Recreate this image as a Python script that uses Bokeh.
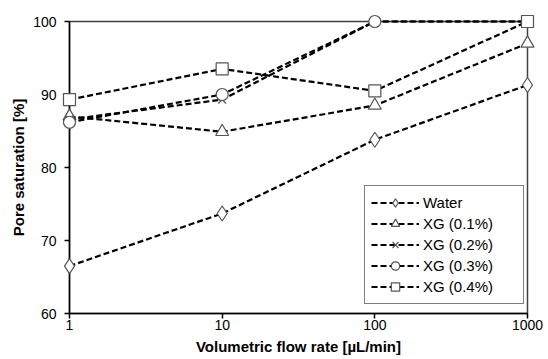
from bokeh.plotting import figure
from bokeh.models import Range1d, FixedTicker, Legend
from bokeh.embed import file_html
from bokeh.resources import INLINE

flow = [1, 10, 100, 1000]
water = [66.5, 73.7, 83.8, 91.3]
xg01 = [87.0, 84.9, 88.5, 97.0]
xg02 = [86.6, 89.3, 100.0, 100.0]
xg03 = [86.2, 90.0, 100.0, 100.0]
xg04 = [89.3, 93.5, 90.5, 100.0]

series = [
    ("Water", water, "diamond", 15),
    ("XG (0.1%)", xg01, "triangle", 13),
    ("XG (0.2%)", xg02, "x", 11),
    ("XG (0.3%)", xg03, "circle", 12),
    ("XG (0.4%)", xg04, "square", 12),
]
yticks = [60, 70, 80, 90, 100]
xticks = [1, 10, 100, 1000]

FONT = "Liberation Sans"

p = figure(width=548, height=359, x_axis_type="log", output_backend="svg",
           toolbar_location=None, x_range=Range1d(1, 1000), y_range=Range1d(60, 100),
           min_border_left=69, min_border_right=21, min_border_top=21, min_border_bottom=46)

p.xgrid.visible = False
p.ygrid.visible = False
p.outline_line_color = "#404040"
p.outline_line_width = 1.5
p.background_fill_color = "white"
p.border_fill_color = "white"

p.xaxis.ticker = FixedTicker(ticks=xticks)
p.xaxis.major_label_overrides = {1: "1", 10: "10", 100: "100", 1000: "1000"}
p.yaxis.ticker = FixedTicker(ticks=yticks)
for ax in (p.xaxis, p.yaxis):
    ax.axis_line_color = "black"
    ax.axis_line_width = 1.5
    ax.major_tick_line_color = "black"
    ax.major_tick_line_width = 1.5
    ax.major_tick_in = 0
    ax.major_tick_out = 5
    ax.minor_tick_line_color = None
    ax.major_label_text_font = FONT
    ax.major_label_text_font_size = "14px"
    ax.major_label_text_color = "black"
    ax.axis_label_text_font = FONT
    ax.axis_label_text_font_size = "15px"
    ax.axis_label_text_font_style = "bold"
    ax.axis_label_text_color = "black"
p.xaxis.axis_label = "Volumetric flow rate [\u00b5L/min]"
p.yaxis.axis_label = "Pore saturation [%]"
p.xaxis.major_label_standoff = 1
p.xaxis.axis_label_standoff = 5
p.yaxis.major_label_standoff = 8
p.yaxis.axis_label_standoff = 3

items = []
for label, vals, marker, size in series:
    r1 = p.line(flow, vals, line_color="black", line_width=2.2, line_dash="6 3", level="overlay")
    r2 = p.scatter(flow, vals, marker=marker, size=size, fill_color="white",
                   line_color="#555555", line_width=1.2, level="overlay")
    items.append((label, [r1, r2]))

legend = Legend(items=items, location=(295, 9))
legend.label_text_font = FONT
legend.label_text_font_size = "15px"
legend.label_text_color = "black"
legend.border_line_color = "black"
legend.border_line_width = 1.5
legend.background_fill_color = "white"
legend.background_fill_alpha = 1
legend.glyph_width = 48
legend.glyph_height = 21
legend.label_height = 21
legend.label_width = 94
legend.spacing = 0
legend.padding = 6
legend.label_standoff = 4
p.add_layout(legend, "center")

open("out.html", "w").write(file_html(p, INLINE))
